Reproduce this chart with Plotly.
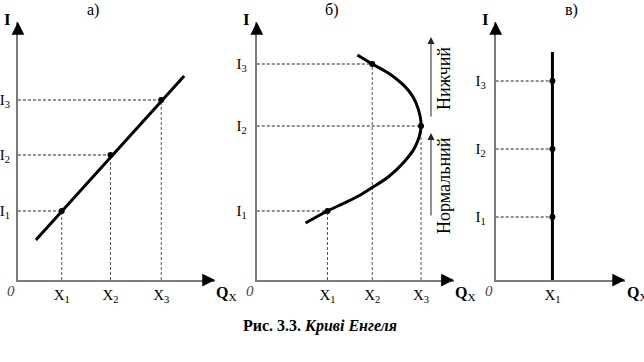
import plotly.graph_objects as go

W, H = 644, 362
SERIF = "Liberation Serif, Times New Roman, serif"

# ---------------- data (axis units: one unit = one screen pixel from origin) ----------
panel_titles = ["а)", "б)", "в)"]
x_tick_labels = ["X<sub>1</sub>", "X<sub>2</sub>", "X<sub>3</sub>"]
i_tick_labels = ["I<sub>1</sub>", "I<sub>2</sub>", "I<sub>3</sub>"]

# а) normal good: straight Engel curve
a_X = [44, 93, 144]
a_I = [69, 125, 180]
a_curve_x = [18, 167]
a_curve_y = [40, 204]

# б) normal then inferior good: backward-bending Engel curve
b_X = [71, 116, 165]
b_I = [69, 154, 216]
b_point_x = [71, 116, 165]
b_point_y = [69, 216, 154]
b_curve_x = [49, 71, 88, 104, 120, 132, 147, 159, 165, 160, 152, 135, 116, 101]
b_curve_y = [57, 69, 77, 85, 95, 103, 117, 133, 154, 177, 190, 205, 216, 225]

# в) neutral good: vertical Engel curve
c_X = [57]
c_I = [63, 131, 199]
c_curve_x = [57, 57]
c_curve_y = [0, 228]

# ---------------- layout helpers ----------------
def pxx(p):
    return p / W

def pxy(p):
    return 1 - p / H

AX_GRAY = "#7a7a7a"
panels = [
    dict(ox=15, xlen=198, sfx="", ylab_gap=5),
    dict(ox=255, xlen=198, sfx="2", ylab_gap=7),
    dict(ox=495, xlen=130, sfx="3", ylab_gap=7),
]
OY, YTOP = 280, 22
YLEN = OY - YTOP

fig = go.Figure()
DASH = "3px,2px"


def add_guides(xref, yref, xs, ys, vertical=True):
    for x, y in zip(xs, ys):
        fig.add_trace(go.Scatter(x=[0, x], y=[y, y], mode="lines", xaxis=xref, yaxis=yref,
                                 line=dict(color="#222", width=1, dash=DASH), hoverinfo="skip"))
        if vertical:
            fig.add_trace(go.Scatter(x=[x, x], y=[0, y], mode="lines", xaxis=xref, yaxis=yref,
                                     line=dict(color="#555", width=1, dash=DASH), hoverinfo="skip"))


# а)
add_guides("x", "y", a_X, a_I)
fig.add_trace(go.Scatter(x=a_curve_x, y=a_curve_y, mode="lines", xaxis="x", yaxis="y",
                         line=dict(color="black", width=3)))
fig.add_trace(go.Scatter(x=a_X, y=a_I, mode="markers", xaxis="x", yaxis="y",
                         marker=dict(color="black", size=6)))
# б)
add_guides("x2", "y2", b_point_x, b_point_y)
fig.add_trace(go.Scatter(x=b_curve_x, y=b_curve_y, mode="lines", xaxis="x2", yaxis="y2",
                         line=dict(color="black", width=3, shape="spline", smoothing=1.0)))
fig.add_trace(go.Scatter(x=b_point_x, y=b_point_y, mode="markers", xaxis="x2", yaxis="y2",
                         marker=dict(color="black", size=6)))
# в)
add_guides("x3", "y3", [c_X[0]] * 3, c_I, vertical=False)
fig.add_trace(go.Scatter(x=c_curve_x, y=c_curve_y, mode="lines", xaxis="x3", yaxis="y3",
                         line=dict(color="black", width=3), cliponaxis=False))
fig.add_trace(go.Scatter(x=[c_X[0]] * 3, y=c_I, mode="markers", xaxis="x3", yaxis="y3",
                         marker=dict(color="black", size=6)))

layout = dict(width=W, height=H, margin=dict(l=0, r=0, t=0, b=0),
              paper_bgcolor="white", plot_bgcolor="rgba(0,0,0,0)", showlegend=False)

tick_sets = [(a_X, a_I), (b_X, b_I), (c_X, c_I)]
annotations = []


def paper_text(x, y, text, size, **kw):
    return dict(x=pxx(x), y=pxy(y), xref="paper", yref="paper", text=text, showarrow=False,
                xanchor="center", yanchor="middle",
                font=dict(family=SERIF, size=size, color=kw.pop("color", "black")), **kw)


def paper_arrow(x, y, dx, dy, color="black", width=2, size=1.1):
    return dict(x=pxx(x), y=pxy(y), xref="paper", yref="paper", ax=dx, ay=dy,
                axref="pixel", ayref="pixel", showarrow=True, arrowhead=2, arrowsize=size,
                arrowwidth=width, arrowcolor=color, standoff=0, text="")


for k, p in enumerate(panels):
    xs, ys = tick_sets[k]
    xid = "x" + p["sfx"]
    yid = "y" + p["sfx"]
    layout["xaxis" + p["sfx"]] = dict(
        domain=[pxx(p["ox"]), pxx(p["ox"] + p["xlen"])], range=[0, p["xlen"]],
        anchor=yid, showline=True, linecolor=AX_GRAY, linewidth=2,
        showgrid=False, zeroline=False, tickvals=xs,
        ticktext=x_tick_labels[:len(xs)], ticks="", ticklen=0,
        tickfont=dict(family=SERIF, size=15, color="black"))
    layout["yaxis" + p["sfx"]] = dict(
        domain=[pxy(OY), pxy(YTOP)], range=[0, YLEN], anchor=xid,
        showline=True, linecolor=AX_GRAY, linewidth=2, showgrid=False,
        zeroline=False, tickvals=ys, ticktext=i_tick_labels[:len(ys)],
        ticks="outside", ticklen=p["ylab_gap"] - 2, tickcolor="rgba(0,0,0,0)",
        tickfont=dict(family=SERIF, size=15, color="black"))
    # arrowheads at the axis ends
    annotations += [
        paper_arrow(p["ox"] + p["xlen"], OY, -12, 0, width=1.5, size=1.7),
        paper_arrow(p["ox"], YTOP, 0, 12, width=1.5, size=1.7),
    ]
    annotations += [
        paper_text(p["ox"] - 7, 291, "<i>0</i>", 15, color="#444"),
        paper_text(p["ox"] - 10, 20, "<b>I</b>", 17),
        paper_text(p["ox"] + p["xlen"] + 12, 293, "<b>Q</b><sub>X</sub>", 16),
    ]

title_px = [90, 330, 571]
for t, x in zip(panel_titles, title_px):
    annotations.append(paper_text(x, 10, t, 16))

# direction arrows and vertical captions in panel б)
annotations += [
    paper_arrow(430, 37, 0, 81, color="#222", width=1, size=1.4),
    paper_arrow(430, 133, 0, 84, color="#222", width=1, size=1.4),
    paper_text(443, 78, "Нижчий", 18, textangle=-90),
    paper_text(443, 185, "Нормальний", 18, textangle=-90),
    paper_text(318, 326, "<b>Рис. 3.3. <i>Криві Енгеля</i></b>", 16),
]
layout["annotations"] = annotations
fig.update_layout(**layout)
fig.write_html("out.html", config={"displayModeBar": False},
               post_script="document.body.style.margin='0';")
